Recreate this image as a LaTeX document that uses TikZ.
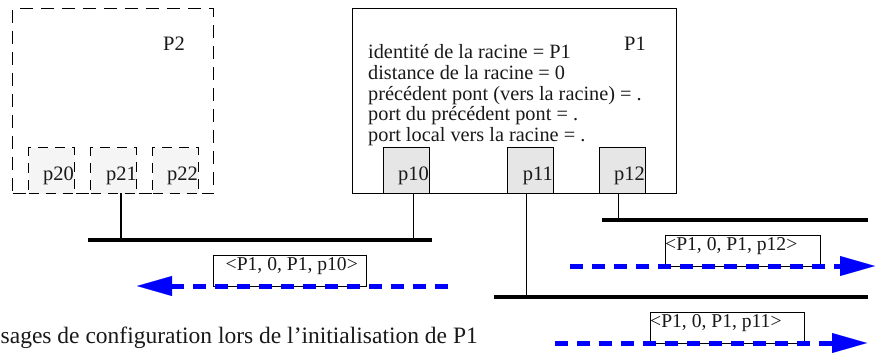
\documentclass[tikz,border=0pt]{standalone}
\usepackage{fontspec}
\setmainfont{Liberation Serif}
\usetikzlibrary{arrows.meta}
\definecolor{portfillA}{HTML}{E6E6E6}
\definecolor{portfillB}{HTML}{F5F5F5}
\begin{document}
\begin{tikzpicture}[x=1pt,y=-1pt,
  txt/.style={font=\fontsize{20.3}{22}\selectfont, inner sep=0pt, text=black!90},
  plbl/.style={txt, font=\fontsize{20.5}{22}\selectfont, anchor=base east},
  mtxt/.style={txt, font=\fontsize{19.6}{22}\selectfont, anchor=base west},
  box/.style={draw, line width=1pt, inner sep=0pt, anchor=north west},
  dbox/.style={box, dash pattern=on 13pt off 8pt},
  port/.style={box, fill=portfillA, minimum width=46pt, minimum height=46pt},
  dport/.style={dbox, fill=portfillB, minimum width=46pt, minimum height=46pt, dash pattern=on 10pt off 7pt},
  msgbox/.style={box, minimum height=31pt},
  link/.style={line width=1.5pt},
  bus/.style={line width=3.5pt},
  msg/.style={blue, line width=5pt, dash pattern=on 13pt off 9pt,
    -{Triangle[length=35pt,width=20pt,line width=0.1pt]}}
]
\useasboundingbox (0,0) rectangle (875,354);
\clip (0,0) rectangle (875,354);

% Bridge P2
\node[dbox, minimum width=201pt, minimum height=185pt] (P2) at (12,8) {};
\node[plbl] (P2lbl) at (185,50) {P2};
\node[dport] (p20) at (28,147) {};
\node[dport] (p21) at (90,147) {};
\node[dport] (p22) at (152,147) {};
\node[plbl] (p20t) at (74,180) {p20};
\node[plbl] (p21t) at (137,180) {p21};
\node[plbl] (p22t) at (198,180) {p22};

% Bridge P1
\node[box, minimum width=324pt, minimum height=185pt] (P1) at (352,8) {};
\node[plbl] (P1lbl) at (646,50) {P1};
\node[txt, anchor=base west] (l1) at (368,58.5) {identité de la racine = P1};
\node[txt, anchor=base west] (l2) at (368,79.3) {distance de la racine = 0};
\node[txt, anchor=base west] (l3) at (368,100.1) {précédent pont (vers la racine) = .};
\node[txt, anchor=base west] (l4) at (368,120.9) {port du précédent pont = .};
\node[txt, anchor=base west] (l5) at (368,141.7) {port local vers la racine = .};
\node[port] (p10) at (383,147) {};
\node[port] (p11) at (507,147) {};
\node[port] (p12) at (599,147) {};
\node[plbl] (p10t) at (429,180) {p10};
\node[plbl] (p11t) at (553,180) {p11};
\node[plbl] (p12t) at (645,180) {p12};

% Buses
\coordinate (b1w) at (88,240);  \coordinate (b1e) at (432,240);
\coordinate (b2w) at (602,220); \coordinate (b2e) at (868,220);
\coordinate (b3w) at (494,297); \coordinate (b3e) at (868,297);
\draw[bus] (b1w) -- (b1e);
\draw[bus] (b2w) -- (b2e);
\draw[bus] (b3w) -- (b3e);

% Port links
\coordinate (j21) at (121,193);   \coordinate (k21) at (121,240);
\coordinate (j10) at (413.7,193); \coordinate (k10) at (413.7,240);
\coordinate (j11) at (526.7,193); \coordinate (k11) at (526.7,297);
\coordinate (j12) at (618.7,193); \coordinate (k12) at (618.7,220);
\draw[link] (j21) -- (k21);
\draw[link] (j10) -- (k10);
\draw[link] (j11) -- (k11);
\draw[link] (j12) -- (k12);

% Messages
\node[msgbox, minimum width=153pt] (m10) at (213,254.5) {};
\node[mtxt] (m10t) at (225.5,270) {<P1, 0, P1, p10>};
\node[msgbox, minimum width=155pt] (m12) at (665,235) {};
\node[mtxt] (m12t) at (665,250) {<P1, 0, P1, p12>};
\node[msgbox, minimum width=154pt] (m11) at (650,312) {};
\node[mtxt] (m11t) at (650,327) {<P1, 0, P1, p11>};

\coordinate (a1s) at (448,286); \coordinate (a1e) at (137,286);
\coordinate (a2s) at (570,266); \coordinate (a2e) at (875,266);
\coordinate (a3s) at (555,343); \coordinate (a3e) at (867,343);
\draw[msg] (a1s) -- (a1e);
\draw[msg] (a2s) -- (a2e);
\draw[msg] (a3s) -- (a3e);

% Caption (cut at the left edge)
\node[txt, font=\fontsize{23.5}{26}\selectfont, anchor=base east] (cap) at (478,343.3) {Messages de configuration lors de l’initialisation de P1};
\end{tikzpicture}
\end{document}
